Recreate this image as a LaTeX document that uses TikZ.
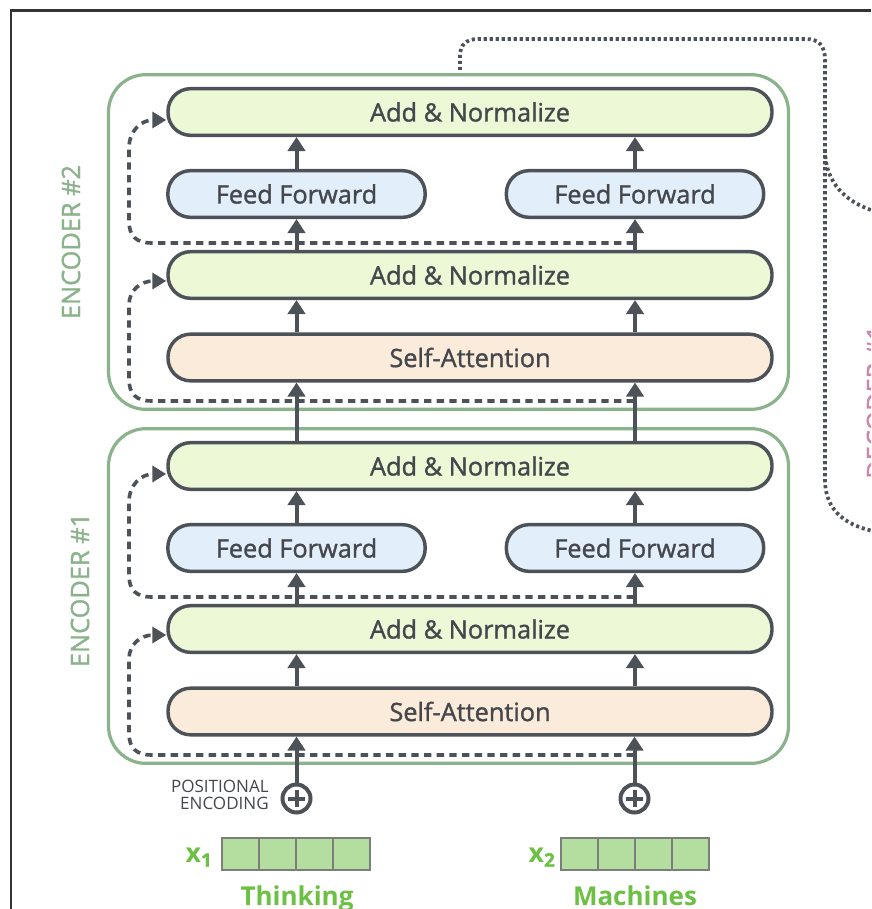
\documentclass[tikz,border=0pt]{standalone}
\usepackage{fontspec}
\setmainfont{Open Sans}
\newfontfamily\boxfont{Open Sans}[FakeBold=1.3]
\usetikzlibrary{arrows.meta,calc}

\definecolor{boxline}{HTML}{4D5259}
\definecolor{txt}{HTML}{44474C}
\definecolor{addfill}{HTML}{EDF8D6}
\definecolor{fffill}{HTML}{E2EEFA}
\definecolor{safill}{HTML}{FBEBDA}
\definecolor{encgreen}{HTML}{8AB38B}
\definecolor{embfill}{HTML}{B3DE9F}
\definecolor{embline}{HTML}{7A7F7A}
\definecolor{wordgreen}{HTML}{6CC043}
\definecolor{decpink}{HTML}{C886AC}
\definecolor{framegray}{HTML}{333333}

\begin{document}
\begin{tikzpicture}[x=0.75pt, y=-0.75pt,
  layer/.style={draw=boxline, line width=2.6pt, rounded corners=17pt,
    minimum height=35pt, inner sep=0pt, text=txt,
    font=\boxfont\fontsize{19}{22}\selectfont},
  addnorm/.style={layer, fill=addfill, minimum width=453pt},
  feedfwd/.style={layer, fill=fffill, minimum width=193pt},
  selfatt/.style={layer, fill=safill, minimum width=453pt},
  encbox/.style={draw=encgreen, line width=2.4pt, rounded corners=28pt,
    minimum width=510pt, minimum height=251pt, inner sep=0pt},
  enclabel/.style={rotate=90, text=encgreen, font=\boxfont\fontsize{19}{22}\selectfont},
  colarrow/.style={draw=boxline, line width=3pt,
    -{Triangle[length=10.5pt, width=13pt]}},
  resid/.style={draw=boxline, line width=2.7pt, dash pattern=on 5.5pt off 4pt,
    -{Triangle[length=10.5pt, width=12pt]}},
  decpath/.style={draw=boxline, line width=2.8pt, dash pattern=on 2.3pt off 2.2pt},
  pluscirc/.style={circle, draw=boxline, fill=white, line width=3pt,
    minimum size=21pt, inner sep=0pt},
  plusbar/.style={draw=boxline, line width=3pt},
  cell/.style={draw=embline, fill=embfill, line width=1pt,
    minimum width=27.75pt, minimum height=24pt, inner sep=0pt},
  xlabel/.style={anchor=base east, text=wordgreen, inner sep=0pt},
  word/.style={anchor=base, text=wordgreen, inner sep=0pt,
    font=\bfseries\fontsize{19.5}{22}\selectfont}
]
\useasboundingbox (0,0) rectangle (871,909);
\clip (0,0) rectangle (871,909);

% page frame
\draw[framegray, line width=1.9pt] (11,909) -- (11,10.5) -- (871,10.5);

% the two encoder blocks, identical apart from their vertical position
\foreach \e/\dy in {2/0, 1/354} {
  \begin{scope}[shift={(0,\dy)}]
    \node[encbox] (enc\e) at (448.5,242) {};
    \node[addnorm] (ant\e) at (470,112) {Add \& Normalize};
    \node[feedfwd] (ffl\e) at (296.5,194) {Feed Forward};
    \node[feedfwd] (ffr\e) at (635,194) {Feed Forward};
    \node[addnorm] (anm\e) at (470,275) {Add \& Normalize};
    \node[selfatt] (sa\e) at (470,357.5) {Self-Attention};

    % residual connections
    \coordinate (ru\e) at (634,243);
    \coordinate (rl\e) at (634,401);
    \draw[resid] (ru\e) -- (152,243) .. controls (136,243) and (129,236) .. (129,221)
      -- (129,148) .. controls (129,131) and (141,120) .. ([yshift=-6pt]ant\e.west);
    \draw[resid] (rl\e) -- (152,401) .. controls (136,401) and (129,394) .. (129,379)
      -- (129,305) .. controls (129,290) and (141,281) .. ([yshift=-4.5pt]anm\e.west);

    % data flow inside the block
    \draw[colarrow] (ffl\e.north) -- (ant\e.south -| ffl\e.north);
    \draw[colarrow] (ffr\e.north) -- (ant\e.south -| ffr\e.north);
    \draw[colarrow] (anm\e.north -| ffl\e.south) -- (ffl\e.south);
    \draw[colarrow] (anm\e.north -| ffr\e.south) -- (ffr\e.south);
    \draw[colarrow] (sa\e.north -| ffl\e.south) -- (anm\e.south -| ffl\e.south);
    \draw[colarrow] (sa\e.north -| ffr\e.south) -- (anm\e.south -| ffr\e.south);
  \end{scope}
}

% encoder titles
\node[enclabel] (lab2) at (71,242) {ENCODER \#2};
\node[enclabel] (lab1) at (80,590) {ENCODER \#1};

% encoder #1 feeds encoder #2
\draw[colarrow] (ant1.north -| ffl1.south) -- (sa2.south -| ffl1.south);
\draw[colarrow] (ant1.north -| ffr1.south) -- (sa2.south -| ffr1.south);

% positional encoding adders
\node[pluscirc] (pl1) at (296.5,798.5) {};
\node[pluscirc] (pl2) at (634.5,798.5) {};
\foreach \p in {pl1,pl2} {
  \draw[plusbar] ([xshift=-6.5pt]\p.center) -- ([xshift=6.5pt]\p.center);
  \draw[plusbar] ([yshift=-6.5pt]\p.center) -- ([yshift=6.5pt]\p.center);
}
\draw[colarrow] (pl1.north) -- (sa1.south -| pl1.north);
\draw[colarrow] (pl2.north) -- (sa1.south -| pl2.north);

\node[anchor=east, align=right, inner sep=0pt, text=txt,
  font=\fontsize{12.8}{12.9}\selectfont] (pe) at (269,795) {POSITIONAL\\ENCODING};

% input embeddings
\foreach \i in {0,...,3} {
  \node[cell] (ea\i) at (240.5+37*\i,854) {};
  \node[cell] (eb\i) at (579.5+37*\i,854) {};
}
\node[xlabel] (x1) at (212,862)
  {\fontsize{20}{20}\selectfont\bfseries x\fontsize{14}{14}\selectfont\boxfont\raisebox{-3.5pt}{1}};
\node[xlabel] (x2) at (555,862)
  {\fontsize{20}{20}\selectfont\bfseries x\fontsize{14}{14}\selectfont\boxfont\raisebox{-3.5pt}{2}};
\node[word] (w1) at (297,905) {Thinking};
\node[word] (w2) at (635,905) {Machines};

% encoder output routed to the decoder
\coordinate (encout) at (460,70);
\draw[decpath] (encout) -- (460,56) .. controls (460,45) and (466,39) .. (478,39)
  -- (806,39) .. controls (819,39) and (825,46) .. (825,60) -- (825,480)
  .. controls (825,510) and (845,528) .. (885,533);
\coordinate (branch) at (825,150);
\draw[decpath] (branch) .. controls (825,182) and (845,205) .. (885,214);
\node[rotate=90, text=decpink, font=\boxfont\fontsize{19}{22}\selectfont] (dec) at (876,402) {DECODER \#1};
\end{tikzpicture}
\end{document}
